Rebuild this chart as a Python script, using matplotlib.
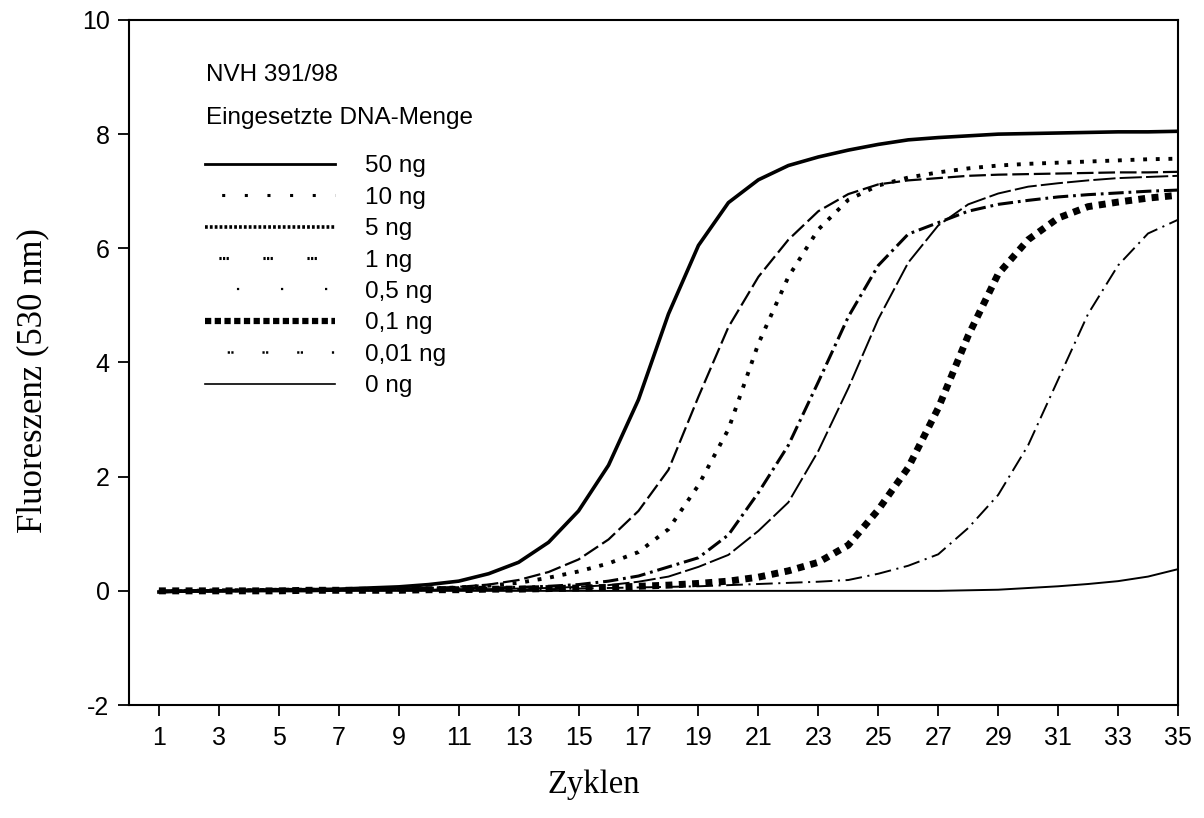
import numpy as np
import matplotlib
matplotlib.use("Agg")
import matplotlib.pyplot as plt
from matplotlib.lines import Line2D

plt.rcParams['axes.unicode_minus'] = False
plt.rcParams['lines.scale_dashes'] = False
plt.rcParams['font.family'] = ['Liberation Sans', 'DejaVu Sans']

# Zyklen 1..35
cycles = np.arange(1, 36)

ng50 = [-0.02, 0.0, 0.0, 0.01, 0.02, 0.02, 0.03, 0.05, 0.07, 0.11, 0.17, 0.3, 0.5, 0.85, 1.4,
        2.2, 3.35, 4.85, 6.05, 6.8, 7.2, 7.45, 7.6, 7.72, 7.82, 7.9, 7.94, 7.97, 8.0, 8.01,
        8.02, 8.03, 8.04, 8.04, 8.05]
ng10 = [0.0, 0.0, 0.01, 0.01, 0.02, 0.02, 0.03, 0.03, 0.04, 0.05, 0.07, 0.11, 0.19, 0.33, 0.55,
        0.9, 1.4, 2.12, 3.4, 4.62, 5.5, 6.15, 6.65, 6.95, 7.12, 7.19, 7.23, 7.27, 7.29, 7.3,
        7.31, 7.32, 7.33, 7.33, 7.34]
ng5 = [0.0, 0.0, 0.01, 0.01, 0.02, 0.02, 0.02, 0.03, 0.03, 0.04, 0.06, 0.09, 0.14, 0.23, 0.34,
       0.48, 0.68, 1.08, 1.85, 2.83, 4.33, 5.5, 6.33, 6.85, 7.1, 7.24, 7.33, 7.4, 7.45, 7.48,
       7.5, 7.52, 7.54, 7.56, 7.57]
ng1 = [0.0, 0.0, 0.0, 0.01, 0.01, 0.02, 0.02, 0.02, 0.03, 0.03, 0.04, 0.05, 0.06, 0.08, 0.11,
       0.17, 0.26, 0.42, 0.58, 0.98, 1.72, 2.55, 3.66, 4.8, 5.7, 6.25, 6.45, 6.65, 6.77, 6.84,
       6.9, 6.94, 6.97, 7.0, 7.02]
ng05 = [0.0, 0.0, 0.0, 0.0, 0.01, 0.01, 0.01, 0.02, 0.02, 0.02, 0.03, 0.03, 0.04, 0.05, 0.07,
        0.1, 0.16, 0.25, 0.42, 0.63, 1.05, 1.55, 2.45, 3.55, 4.76, 5.75, 6.4, 6.77, 6.96, 7.08,
        7.14, 7.19, 7.23, 7.25, 7.27]
ng01 = [0.0, 0.0, 0.0, 0.0, 0.0, 0.01, 0.01, 0.01, 0.01, 0.02, 0.02, 0.03, 0.03, 0.04, 0.05,
        0.06, 0.08, 0.1, 0.13, 0.17, 0.24, 0.35, 0.5, 0.8, 1.42, 2.16, 3.2, 4.47, 5.55, 6.15,
        6.53, 6.73, 6.81, 6.88, 6.93]
ng001 = [0.0, 0.0, 0.0, 0.0, 0.0, 0.0, 0.01, 0.01, 0.01, 0.01, 0.02, 0.02, 0.02, 0.03, 0.04,
         0.05, 0.06, 0.07, 0.08, 0.1, 0.12, 0.14, 0.16, 0.19, 0.3, 0.44, 0.64, 1.1, 1.68, 2.55,
         3.7, 4.85, 5.7, 6.26, 6.5]
ng0 = [-0.02, -0.02, -0.01, -0.01, -0.01, -0.01, 0.0, 0.0, 0.0, 0.0, 0.0, 0.0, 0.0, 0.0, 0.0,
       0.0, 0.0, 0.0, 0.0, 0.0, 0.0, 0.0, 0.0, 0.0, 0.0, 0.0, 0.0, 0.01, 0.02, 0.05,
       0.08, 0.12, 0.17, 0.25, 0.38]

labels = ['50 ng', '10 ng', '5 ng', '1 ng', '0,5 ng', '0,1 ng', '0,01 ng', '0 ng']

fig = plt.figure(figsize=(12.04, 8.18), dpi=100)
ax = fig.add_axes([0.1071, 0.1381, 0.8713, 0.8375])

# curves (drawn like the original plot)
ax.plot(cycles, ng0, color='black', lw=1.4)
ax.plot(cycles, ng001, color='black', lw=1.4, dashes=(12, 4, 1.5, 4))
ax.plot(cycles, ng01, color='black', lw=5, dashes=(5, 4.6))
ax.plot(cycles, ng05, color='black', lw=1.4, dashes=(16, 3))
ax.plot(cycles, ng1, color='black', lw=2.2, dashes=(11, 3.5, 2, 3.5))
ax.plot(cycles, ng5, color='black', lw=2.8, dashes=(2.8, 6.3))
ax.plot(cycles, ng10, color='black', lw=1.6, dashes=(12, 3.5))
ax.plot(cycles, ng50, color='black', lw=2.6)

ax.set_xlim(0, 35)
ax.set_ylim(-2, 10)
ax.set_xticks(np.arange(1, 36, 2))
ax.set_yticks(np.arange(-2, 11, 2))
ax.tick_params(direction='out', length=8, width=1.3, labelsize=18, top=False, right=False)
ax.tick_params(axis='x', pad=7)
ax.tick_params(axis='y', pad=6)
for s in ax.spines.values():
    s.set_linewidth(1.5)

ax.set_xlabel('Zyklen', family='Liberation Serif', fontsize=23.5)
ax.set_ylabel('Fluoreszenz (530 nm)', family='Liberation Serif', fontsize=25)
ax.xaxis.set_label_coords(0.443, -0.117)
ax.yaxis.set_label_coords(-0.092, 0.474)
ax.xaxis.label.set_va('center')
ax.yaxis.label.set_va('center')

ax.text(2.57, 9.04, 'NVH 391/98', fontsize=17.5, va='center')
ax.text(2.57, 8.29, 'Eingesetzte DNA-Menge', fontsize=17.5, va='center')

# legend keys, styled like the reference legend
handles = [
    Line2D([], [], color='black', lw=2),
    Line2D([], [], color='black', lw=2.2, linestyle=(4.3, (2.2, 14.1))),
    Line2D([], [], color='black', lw=2.6, dashes=(2, 1.5)),
    Line2D([], [], color='black', lw=2.2, linestyle=(-10, (1.6, 1, 1.6, 1, 1.6, 24.9))),
    Line2D([], [], color='black', lw=1.6, linestyle=(-23, (1.6, 30.1))),
    Line2D([], [], color='black', lw=4.5, dashes=(4.5, 2.5)),
    Line2D([], [], color='black', lw=1.8, linestyle=(-16, (1.6, 1, 1.6, 20.8))),
    Line2D([], [], color='black', lw=1.2),
]
ax.legend(handles, labels, loc='upper left', bbox_to_anchor=(0.1703, 0.8105),
          bbox_transform=fig.transFigure, frameon=False, borderpad=0, borderaxespad=0,
          handlelength=5.35, handletextpad=1.23, labelspacing=0.39, fontsize=17.5)

plt.savefig('out.png', dpi=100)
